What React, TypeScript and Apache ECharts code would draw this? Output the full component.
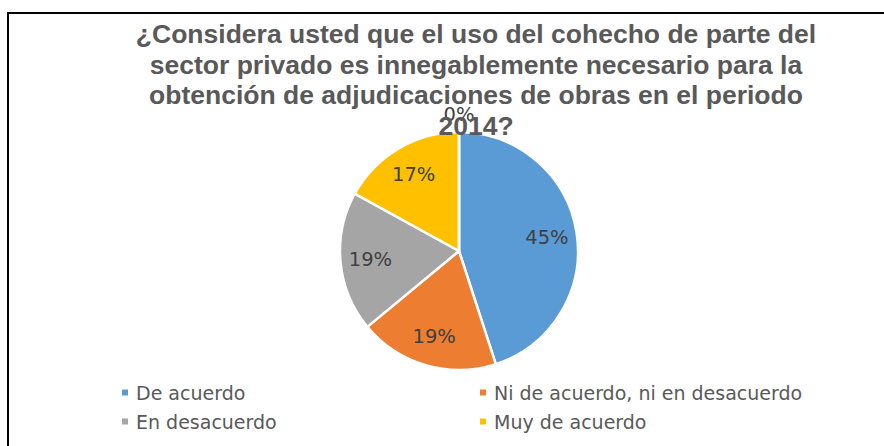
import React, { useEffect, useRef } from "react";
import * as echarts from "echarts";

const titleLines = [
  "¿Considera usted que el uso del cohecho de parte del",
  "sector privado es innegablemente necesario para la",
  "obtención de adjudicaciones de obras en el periodo",
  "2014?",
];
const categories = [
  "De acuerdo",
  "Ni de acuerdo, ni en desacuerdo",
  "En desacuerdo",
  "Muy de acuerdo",
  "Muy en desacuerdo",
];
const legendNames = categories.slice(0, 4);
const percentValues = [45, 19, 19, 17, 0];
const colors = ["#5B9BD5", "#ED7D31", "#A5A5A5", "#FFC000", "#4472C4"];

export default function App() {
  const ref = useRef<HTMLDivElement>(null);
  useEffect(() => {
    if (!ref.current) return;
    const chart = echarts.init(ref.current, undefined, { renderer: "svg" });
    const center = [459, 251];
    const labelFont = {
      fontFamily: "DejaVu Sans",
      fontSize: 19.5,
      color: "#404040",
    };
    chart.setOption({
      animation: false,
      color: colors,
      title: {
        text: titleLines.join("\n"),
        left: 476,
        top: 19,
        textAlign: "center",
        padding: 0,
        textStyle: {
          fontFamily: "Liberation Sans",
          fontWeight: "bold",
          fontSize: 26.5,
          lineHeight: 30.5,
          color: "#595959",
        },
      },
      legend: {
        data: legendNames,
        left: 120,
        top: 378,
        width: 720,
        orient: "horizontal",
        padding: 0,
        itemGap: 0,
        itemWidth: 8,
        itemHeight: 8,
        icon: "rect",
        selectedMode: false,
        textStyle: {
          fontFamily: "DejaVu Sans",
          fontSize: 19,
          color: "#595959",
          width: 342,
          lineHeight: 29,
          padding: [0, 0, 0, 2],
        },
      },
      series: [
        {
          type: "pie",
          center,
          radius: 119,
          startAngle: 90,
          clockwise: true,
          silent: true,
          label: { show: false },
          labelLine: { show: false },
          itemStyle: { borderColor: "#ffffff", borderWidth: 2.5 },
          data: categories.map((n, i) => ({ name: n, value: percentValues[i] })),
        },
        {
          type: "pie",
          center,
          radius: 172,
          startAngle: 90,
          clockwise: true,
          silent: true,
          z: 5,
          itemStyle: { color: "transparent" },
          labelLine: { show: false },
          label: {
            show: true,
            position: "inside",
            formatter: (p: any) => `${p.value}%`,
            ...labelFont,
          },
          data: categories.map((n, i) => ({
            name: n,
            value: percentValues[i],
            label: { show: percentValues[i] > 0 },
          })),
        },
        {
          type: "pie",
          center,
          radius: 268,
          startAngle: 90,
          clockwise: true,
          silent: true,
          z: 6,
          itemStyle: { color: "transparent" },
          labelLine: { show: false },
          label: {
            show: true,
            position: "inside",
            formatter: (p: any) => `${p.value}%`,
            ...labelFont,
          },
          data: categories.map((n, i) => ({
            name: n,
            value: percentValues[i],
            label: { show: percentValues[i] === 0 },
          })),
        },
      ],
    });
    return () => chart.dispose();
  }, []);
  return (
    <div style={{ position: "fixed", left: 0, top: 0, width: 884, height: 446, background: "#fff" }}>
      <div
        style={{
          position: "absolute",
          left: 7,
          top: 12,
          right: -4,
          bottom: -4,
          borderTop: "2px solid #000",
          borderLeft: "2px solid #000",
        }}
      />
      <div ref={ref} style={{ position: "absolute", left: 0, top: 0, width: 884, height: 446 }} />
    </div>
  );
}
